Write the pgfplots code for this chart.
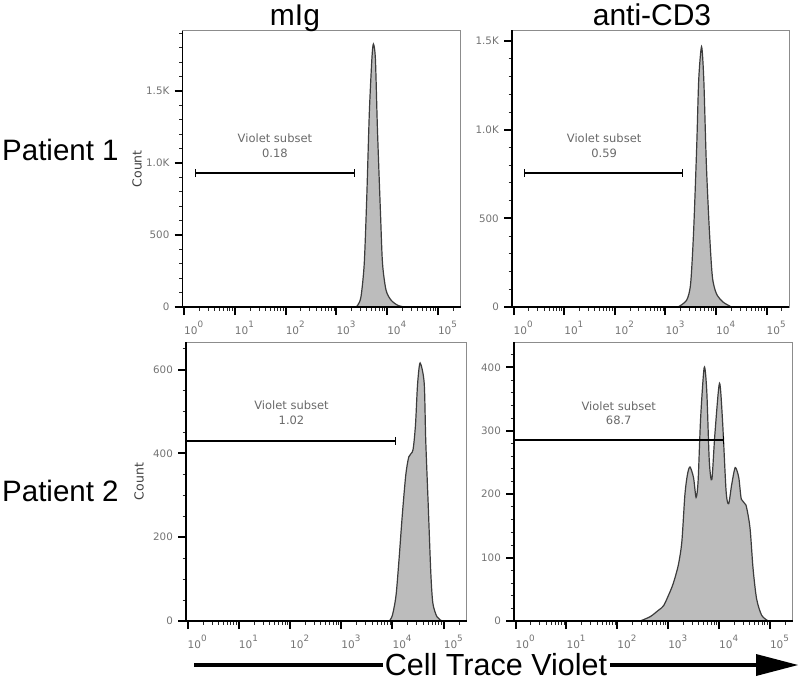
\documentclass[border=0pt]{standalone}
\usepackage{fontspec}
\setmainfont{Liberation Sans}
\newfontfamily\dejavu{DejaVu Sans}
\usepackage{pgfplots}
\pgfplotsset{compat=1.18}
\usetikzlibrary{arrows.meta}
\definecolor{fillgray}{RGB}{188,188,188}
\definecolor{linegray}{RGB}{60,60,60}
\definecolor{labgray}{RGB}{115,115,115}
\definecolor{gatetext}{RGB}{105,105,105}
\definecolor{boxgray}{RGB}{140,140,140}
\newcommand{\decl}[1]{10\raisebox{0.68em}{\fontsize{8.8}{8.8}\selectfont #1}}
\pgfplotsset{
 every axis/.append style={
  scale only axis, xmode=log, xmin=0.933, xmax=281800, ymin=0,
  clip mode=individual,
  axis line style={boxgray, line width=0.8pt},
  tick align=outside, tick pos=left,
  major tick length=8pt, minor tick length=3.5pt,
  every major tick/.style={black, line width=2pt},
  every minor tick/.style={black!85, line width=0.8pt},
  xtick={1,10,100,1000,10000,100000},
  xticklabels={\decl{0},\decl{1},\decl{2},\decl{3},\decl{4},\decl{5}},
  minor xtick={2,3,4,5,6,7,8,9,20,30,40,50,60,70,80,90,200,300,400,500,600,700,800,900,2000,3000,4000,5000,6000,7000,8000,9000,20000,30000,40000,50000,60000,70000,80000,90000,200000},
  tick label style={font=\dejavu\fontsize{10.5}{10.5}\selectfont, text=labgray},
  xticklabel style={anchor=north west, inner sep=0pt, xshift=0pt, yshift=-6pt},
  yticklabel style={anchor=east, inner sep=0pt, xshift=-5pt, font=\dejavu\fontsize{10.3}{10.5}\selectfont},
 },
}
\tikzset{
 fjhist/.style={fill=fillgray, draw=linegray, line width=1.2pt, smooth, tension=0.45},
 fjgate/.style={black, line width=1.7pt},
 fjlab/.style={align=center, font=\dejavu\fontsize{11.5}{14.5}\selectfont, text=gatetext},
 fjcount/.style={rotate=90, font=\dejavu\fontsize{12.5}{12.5}\selectfont, text=black!75},
 fjframe/.style={black, line width=1.3pt},
}
\begin{document}
\begin{tikzpicture}
\path[use as bounding box] (0pt,0pt) rectangle (800pt,-681pt);

% ---------- Top left: Patient 1, mIg
\begin{axis}[at={(182.5pt,-307pt)}, anchor=south west,
  width=278.2pt, height=276.5pt, ymax=1920,
  ytick={0,500,1000,1500}, yticklabels={0,500,1.0K,1.5K},
  minor ytick={100,200,300,400,600,700,800,900,1100,1200,1300,1400,1600,1700,1800,1900}]
\addplot[fjhist] coordinates {
 (2455,0) (2630,12) (3055,70) (3548,302) (3981,768) (4467,1349) (5012,1721)
 (5370,1826) (5888,1721) (6457,1233) (7413,651) (8128,302) (9550,116)
 (12023,47) (16218,12) (21878,0)};
\addplot[fjgate, {Bar[width=8pt,line width=1.3pt]}-{Bar[width=8pt,line width=1.3pt]}]
  coordinates {(1.62,930) (2344,930)};
\node[fjlab] at (axis cs:61.7,1119) {Violet subset\\0.18};
\node[fjcount] at (rel axis cs:-0.1636,0.5) {Count};
\draw[fjframe] (rel axis cs:0,1) -- (rel axis cs:0,0) -- (rel axis cs:1,0);
\end{axis}

% ---------- Top right: Patient 1, anti-CD3
\begin{axis}[at={(512pt,-307pt)}, anchor=south west,
  width=277.3pt, height=277pt, ymax=1562,
  ytick={0,500,1000,1500}, yticklabels={0,500,1.0K,1.5K},
  minor ytick={100,200,300,400,600,700,800,900,1100,1200,1300,1400}]
\addplot[fjhist] coordinates {
 (1778,0) (2630,38) (3162,132) (3631,434) (4169,906) (4571,1283) (5200,1468)
 (5754,1283) (6457,811) (7413,434) (8511,170) (10233,75) (13804,28) (20417,0)};
\addplot[fjgate, {Bar[width=8pt,line width=1.3pt]}-{Bar[width=8pt,line width=1.3pt]}]
  coordinates {(1.62,756) (2239,756)};
\node[fjlab] at (axis cs:61.7,910) {Violet subset\\0.59};
\draw[fjframe] (rel axis cs:0,1) -- (rel axis cs:0,0) -- (rel axis cs:1,0);
\end{axis}

% ---------- Bottom left: Patient 2, mIg
\begin{axis}[at={(186pt,-621pt)}, anchor=south west,
  width=280.7pt, height=279pt, ymax=666,
  ytick={0,200,400,600}, yticklabels={0,200,400,600},
  minor ytick={50,100,150,250,300,350,450,500,550,650}]
\addplot[fjhist] coordinates {
 (8710,0) (10000,14) (11749,61) (13490,149) (15488,249) (18197,348)
 (20893,392) (25119,408) (28184,468) (30903,564) (34674,616)
 (41687,568) (44668,432) (50119,273) (56234,113) (61660,42) (74131,10) (93325,0)};
\addplot[fjgate, -{Bar[width=8pt,line width=1.3pt]}]
  coordinates {(0.933,430) (11749,430)};
\node[fjlab] at (axis cs:107,497) {Violet subset\\1.02};
\node[fjcount] at (rel axis cs:-0.1674,0.5) {Count};
\draw[fjframe] (rel axis cs:0,1) -- (rel axis cs:0,0) -- (rel axis cs:1,0);
\end{axis}

% ---------- Bottom right: Patient 2, anti-CD3
\begin{axis}[at={(514pt,-621pt)}, anchor=south west,
  width=278.7pt, height=279pt, ymax=440,
  ytick={0,100,200,300,400}, yticklabels={0,100,200,300,400},
  minor ytick={20,40,60,80,120,140,160,180,220,240,260,280,320,340,360,380,420}]
\addplot[fjhist] coordinates {
 (282,0) (447,7) (646,17) (813,24) (1023,41) (1259,59) (1585,88) (1862,125)
 (2138,199) (2399,231) (2692,243) (3162,226) (3548,195) (3890,221) (4365,321)
 (5129,400) (5754,363) (6457,252) (7244,223) (8318,295) (10233,375) (11749,316)
 (13804,205) (15488,185) (17783,215) (20893,242) (24547,226) (27542,192)
 (33884,183) (40738,147) (46774,83) (54954,35) (69183,9) (93325,0)};
\addplot[fjgate, -{Bar[width=8pt,line width=1.3pt]}]
  coordinates {(0.933,286) (12589,286)};
\node[fjlab] at (axis cs:107,328) {Violet subset\\68.7};
\draw[fjframe] (rel axis cs:0,1) -- (rel axis cs:0,0) -- (rel axis cs:1,0);
\end{axis}

% ---------- titles and row labels
\node[anchor=base, font=\fontsize{30}{30}\selectfont] at (295pt,-25pt) {mIg};
\node[anchor=base, font=\fontsize{30}{30}\selectfont] at (652pt,-25pt) {anti-CD3};
\node[anchor=base west, inner sep=0pt, font=\fontsize{29.5}{29.5}\selectfont] at (2pt,-160pt) {Patient 1};
\node[anchor=base west, inner sep=0pt, font=\fontsize{29.5}{29.5}\selectfont] at (2pt,-501pt) {Patient 2};

% ---------- bottom arrow
\draw[line width=4pt] (194pt,-665pt) -- (383pt,-665pt);
\draw[line width=4pt] (610pt,-665pt) -- (760pt,-665pt);
\fill (756pt,-654pt) -- (798pt,-665pt) -- (756pt,-676pt) -- cycle;
\node[anchor=base, inner sep=0pt, font=\fontsize{30.5}{30.5}\selectfont] at (496pt,-675.5pt) {Cell Trace Violet};
\end{tikzpicture}
\end{document}
